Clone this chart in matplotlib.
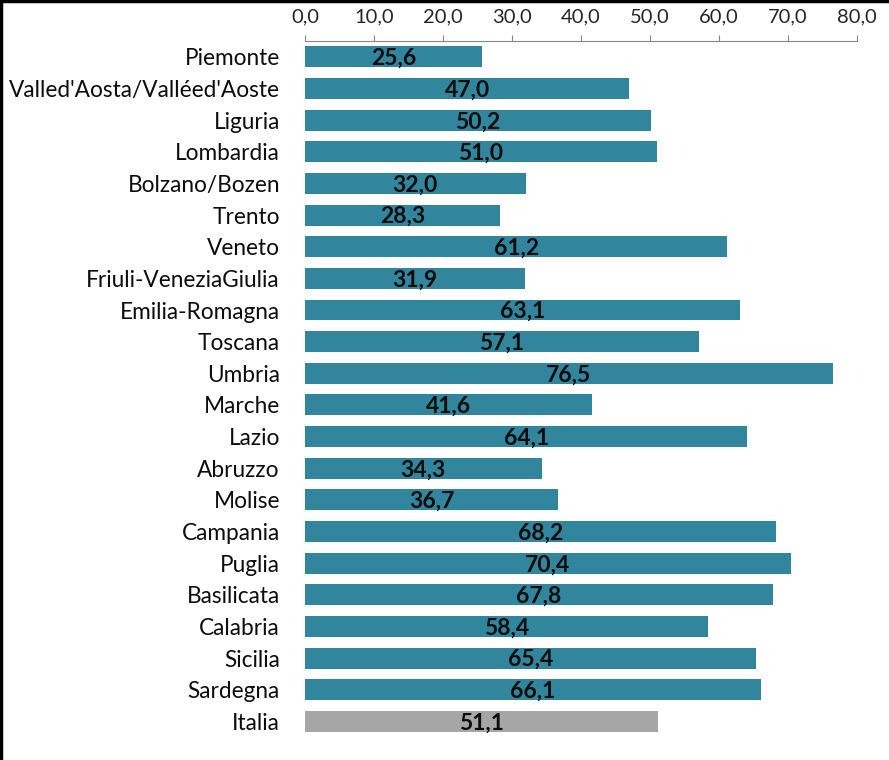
import matplotlib
matplotlib.use('Agg')
from matplotlib import pyplot as plt
from matplotlib.lines import Line2D

# ========== Dati ==========
regioni = ['Piemonte', "Valled'Aosta/Valléed'Aoste", 'Liguria', 'Lombardia',
           'Bolzano/Bozen', 'Trento', 'Veneto', 'Friuli-VeneziaGiulia',
           'Emilia-Romagna', 'Toscana', 'Umbria', 'Marche', 'Lazio', 'Abruzzo',
           'Molise', 'Campania', 'Puglia', 'Basilicata', 'Calabria', 'Sicilia',
           'Sardegna', 'Italia']
valori = [25.6, 47.0, 50.2, 51.0, 32.0, 28.3, 61.2, 31.9, 63.1, 57.1, 76.5,
          41.6, 64.1, 34.3, 36.7, 68.2, 70.4, 67.8, 58.4, 65.4, 66.1, 51.1]
tick_vals = [0, 10, 20, 30, 40, 50, 60, 70, 80]

plt.rcParams['font.family'] = ['Lato', 'DejaVu Sans']

colori = ['#31859C'] * (len(regioni) - 1) + ['#A6A6A6']

# ========== Grafico ==========
fig = plt.figure(figsize=(8.89, 7.60), dpi=100)
ax = fig.add_axes([0.343, 0.030, 0.621, 0.916])

pos = list(range(len(regioni)))
ax.barh(pos, valori, height=0.66, color=colori)
ax.set_ylim(len(regioni) - 0.5, -0.5)
ax.set_xlim(0, 80)

# etichette dei valori al centro delle barre
for p, v in zip(pos, valori):
    ax.text(v / 2, p + 0.05, f'{v:.1f}'.replace('.', ','), ha='center', va='center',
            fontsize=16.5, fontweight='bold', color='#0D0D0D')

ax.xaxis.tick_top()
ax.set_xticks(tick_vals)
ax.set_xticklabels([f'{t:.1f}'.replace('.', ',') for t in tick_vals],
                   fontsize=14.5, color='#262626')
ax.tick_params(axis='x', direction='out', length=4, color='#868686', pad=7)
ax.set_yticks(pos)
ax.set_yticklabels(regioni, fontsize=16.3, color='#0D0D0D')
ax.tick_params(axis='y', length=0, pad=18)

for s in ['bottom', 'left', 'right']:
    ax.spines[s].set_visible(False)
ax.spines['top'].set_color('#868686')

# bordo esterno (sinistra e alto)
fig.add_artist(Line2D([0.001, 0.001], [0, 1], color='black', lw=2.5,
                      transform=fig.transFigure))
fig.add_artist(Line2D([0, 1], [0.999, 0.999], color='black', lw=2.5,
                      transform=fig.transFigure))

plt.savefig('out.png', dpi=100)
